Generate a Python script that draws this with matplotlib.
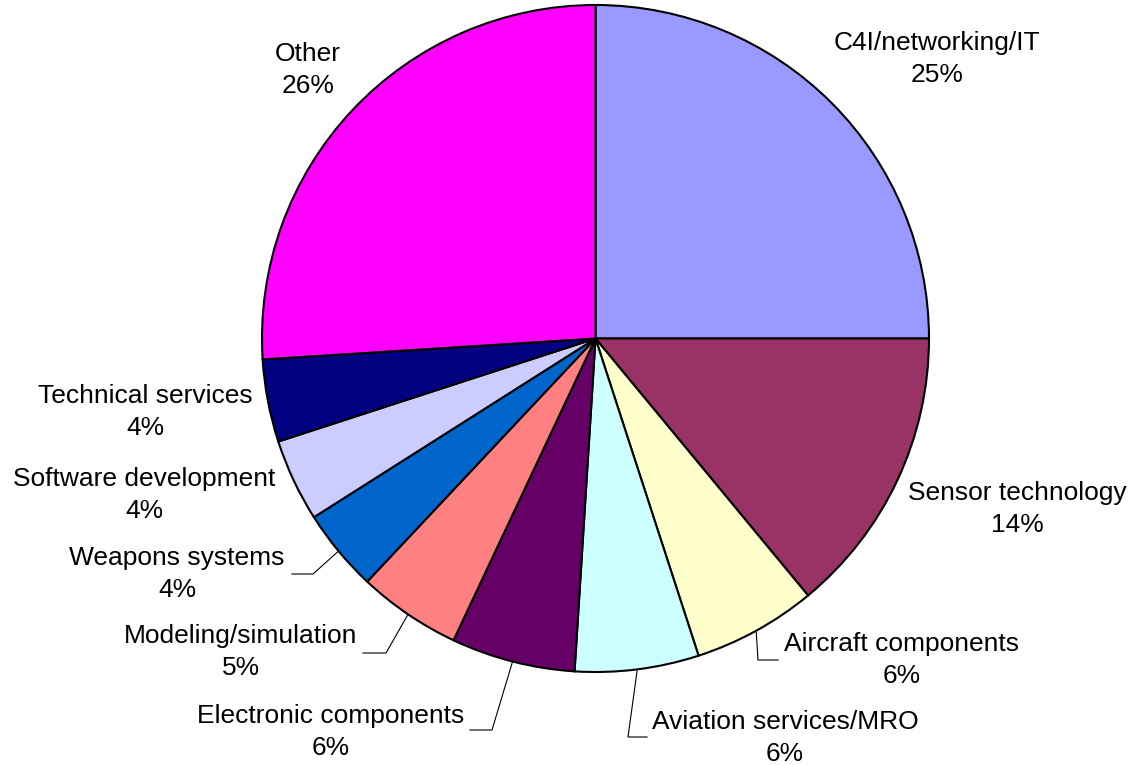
import matplotlib
matplotlib.use("Agg")
import matplotlib.pyplot as plt
import numpy as np

categories = ["C4I/networking/IT", "Sensor technology", "Aircraft components",
              "Aviation services/MRO", "Electronic components", "Modeling/simulation",
              "Weapons systems", "Software development", "Technical services", "Other"]
shares = [25, 14, 6, 6, 6, 5, 4, 4, 4, 26]
colors = ["#9999FF", "#993366", "#FFFFCC", "#CCFFFF", "#660066", "#FF8080",
          "#0066CC", "#CCCCFF", "#000080", "#FF00FF"]

plt.rcParams["font.family"] = ["Liberation Sans", "DejaVu Sans"]

W, H = 1131, 765
fig = plt.figure(figsize=(W / 100, H / 100), dpi=100)
ax = fig.add_axes([0, 0, 1, 1])

def py(y):
    # convert top-down pixel row to data y
    return H - y

cx, cy, R = 595.5, py(338.5), 333.5
wedges, _ = ax.pie(shares, colors=colors, startangle=90, counterclock=False,
                   center=(cx, cy), radius=R, frame=True,
                   wedgeprops=dict(edgecolor="black", linewidth=1.5))
ax.set_xlim(0, W)
ax.set_ylim(0, H)
ax.set_aspect("equal")
ax.set_axis_off()

# label centres (pixel coordinates, top-down)
label_pos = [(937, 59), (1017, 509), (902, 660), (785, 738), (331, 732),
             (241, 652), (177, 574), (144, 495), (145, 412), (308, 70)]

for name, val, (lx, ly) in zip(categories, shares, label_pos):
    ax.text(lx, py(ly), f"{name}\n{val}%", ha="center", va="center",
            multialignment="center", fontsize=19, linespacing=1.45, color="black")

# leader lines: slice index -> (elbow, end) in pixel coordinates
leaders = {2: ((758, 660), (778, 660)),
           3: ((628, 737), (647, 737)),
           4: ((492, 730), (470, 730)),
           5: ((386, 653), (363, 653)),
           6: ((313, 574), (292, 574))}

for idx, (elbow, end) in leaders.items():
    w = wedges[idx]
    mid = np.deg2rad((w.theta1 + w.theta2) / 2)
    sx, sy = cx + R * np.cos(mid), cy + R * np.sin(mid)
    ax.plot([sx, elbow[0], end[0]], [sy, py(elbow[1]), py(end[1])],
            color="black", linewidth=0.8, solid_joinstyle="miter")

fig.savefig("out.png", dpi=100)
